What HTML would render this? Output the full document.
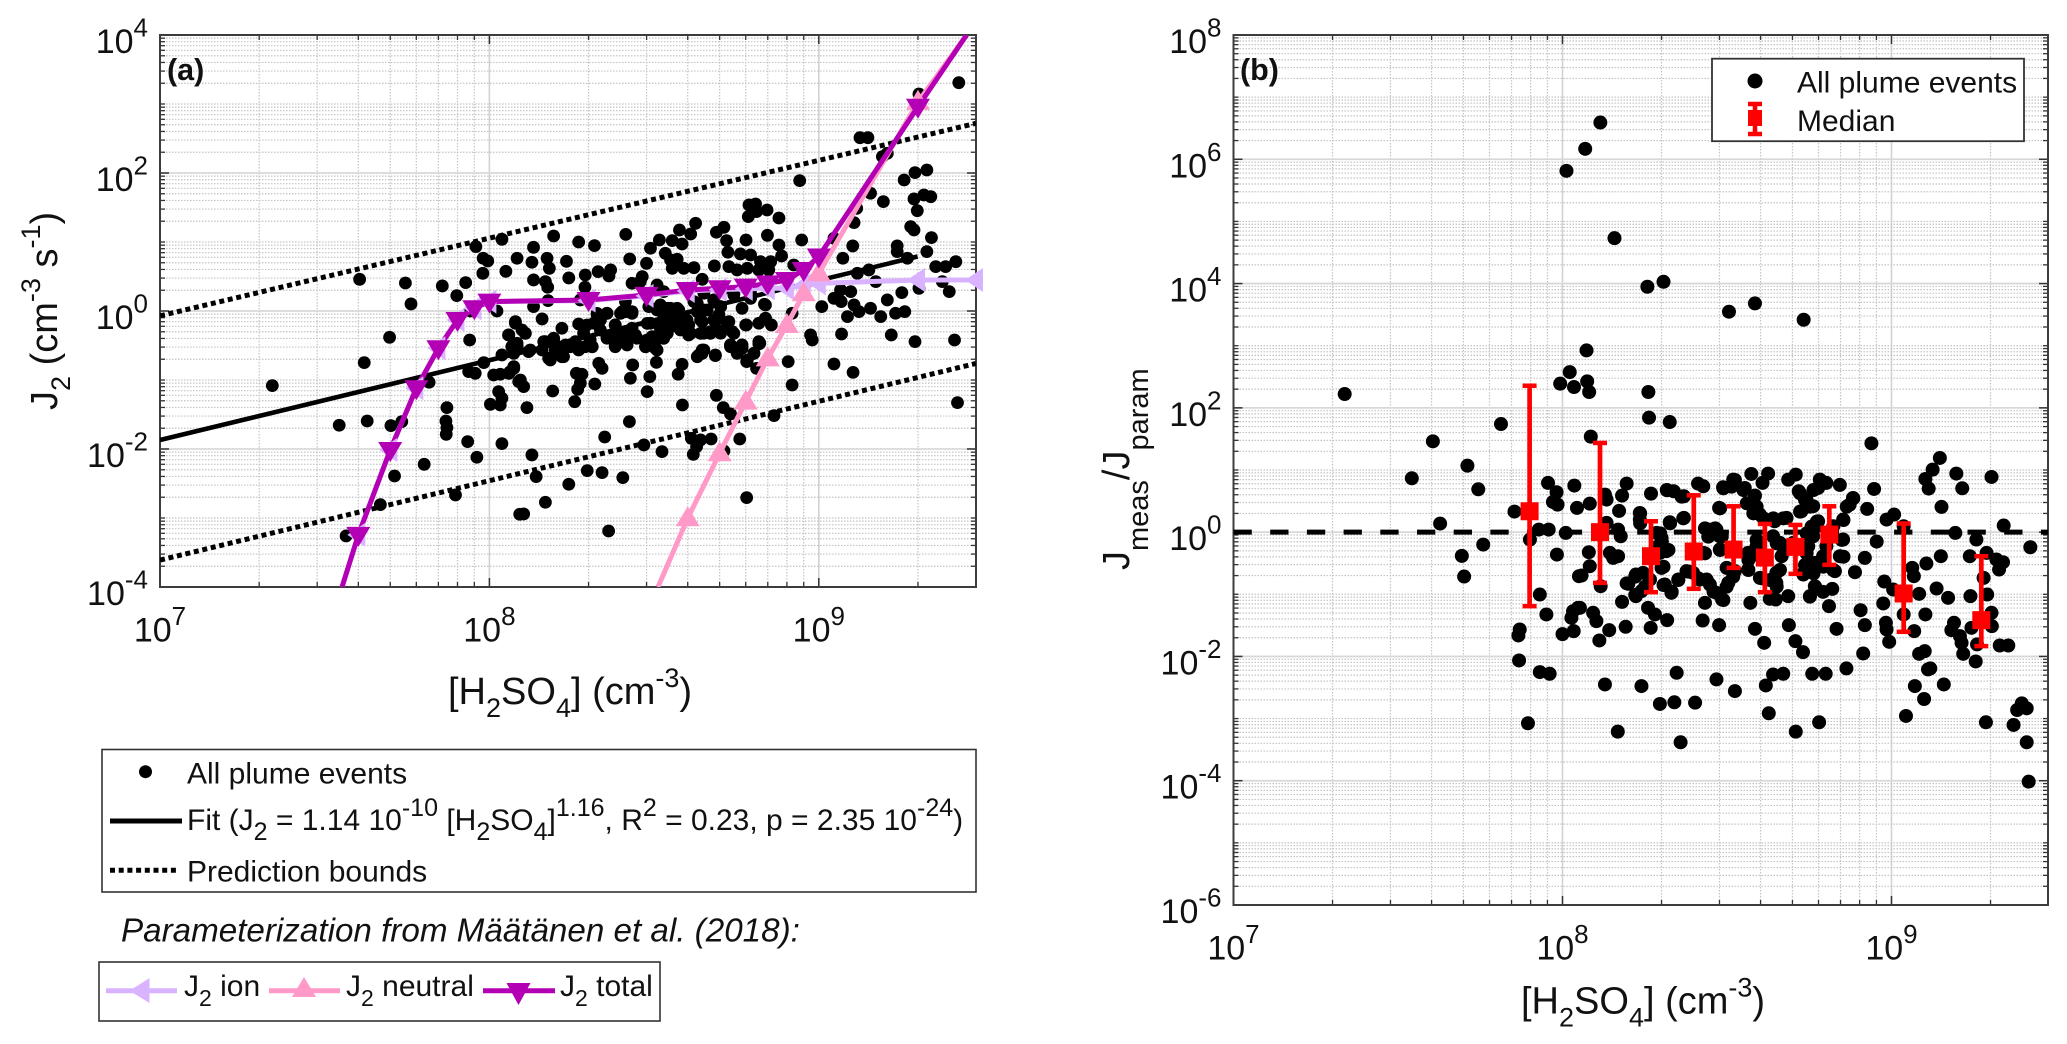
<!DOCTYPE html>
<html lang="en">
<head>
<meta charset="utf-8">
<title>J2 versus H2SO4 scatter panels</title>
<style>
html,body{margin:0;padding:0;background:#fff;}
svg{display:block;font-family:"Liberation Sans",Arial,sans-serif;}
text{fill:#111;}
</style>
</head>
<body>
<svg id="figure" xmlns="http://www.w3.org/2000/svg" width="2067" height="1044" viewBox="0 0 2067 1044">
  <rect x="0" y="0" width="2067" height="1044" fill="#fff"/>
  <defs>
    <clipPath id="clipA"><rect x="160" y="35" width="816" height="552"/></clipPath>
    <clipPath id="clipB"><rect x="1233.5" y="35" width="814.5" height="870"/></clipPath>
  </defs>
  <g id="panelA"></g>
  <g id="panelB"></g>

  <text x="167" y="80" font-size="30.5" font-weight="bold" fill="#000">(a)</text>
  <text x="1240" y="80" font-size="30.5" font-weight="bold" fill="#000">(b)</text>

  <text transform="translate(57,410) rotate(-90)" font-size="38">J<tspan font-size="27" dy="13">2</tspan><tspan dy="-13"> (cm</tspan><tspan font-size="27" dy="-17">-3</tspan><tspan dy="17"> s</tspan><tspan font-size="27" dy="-17">-1</tspan><tspan dy="17">)</tspan></text>
  <text x="448" y="704" font-size="38">[H<tspan font-size="27" dy="13">2</tspan><tspan dy="-13">SO</tspan><tspan font-size="27" dy="13">4</tspan><tspan dy="-13">] (cm</tspan><tspan font-size="27" dy="-17">-3</tspan><tspan dy="17">)</tspan></text>
  <text transform="translate(1129,570) rotate(-90)" font-size="38">J<tspan font-size="29" dy="19">meas</tspan><tspan dy="-19">/J</tspan><tspan font-size="29" dy="19">param</tspan></text>
  <text x="1521" y="1013.5" font-size="38">[H<tspan font-size="27" dy="13">2</tspan><tspan dy="-13">SO</tspan><tspan font-size="27" dy="13">4</tspan><tspan dy="-13">] (cm</tspan><tspan font-size="27" dy="-17">-3</tspan><tspan dy="17">)</tspan></text>

  <g>
    <rect x="102" y="749.5" width="874" height="142.5" fill="#fff" stroke="#333" stroke-width="1.6"/>
    <circle cx="145.5" cy="771.7" r="6.5" fill="#000"/>
    <text x="187" y="783.3" font-size="30" fill="#000">All plume events</text>
    <line x1="110" y1="821" x2="182" y2="821" stroke="#000" stroke-width="5"/>
    <text x="187" y="830" font-size="30" fill="#000">Fit (J<tspan font-size="25" dy="10">2</tspan><tspan dy="-10"> = 1.14 10</tspan><tspan font-size="25" dy="-14">-10</tspan><tspan dy="14"> [H</tspan><tspan font-size="25" dy="10">2</tspan><tspan dy="-10">SO</tspan><tspan font-size="25" dy="10">4</tspan><tspan dy="-10">]</tspan><tspan font-size="25" dy="-14">1.16</tspan><tspan dy="14">, R</tspan><tspan font-size="25" dy="-14">2</tspan><tspan dy="14"> = 0.23, p = 2.35 10</tspan><tspan font-size="25" dy="-14">-24</tspan><tspan dy="14">)</tspan></text>
    <line x1="110" y1="870.3" x2="178" y2="870.3" stroke="#000" stroke-width="5" stroke-dasharray="5 3.7"/>
    <text x="187" y="881.7" font-size="30" fill="#000">Prediction bounds</text>
  </g>

  <text x="121" y="941.7" font-size="33.2" font-style="italic" fill="#000">Parameterization from Määtänen et al. (2018):</text>

  <g>
    <rect x="99" y="962" width="561" height="59" fill="#fff" stroke="#333" stroke-width="1.6"/>
    <line x1="106" y1="990.7" x2="177" y2="990.7" stroke="#d9b3ff" stroke-width="5"/>
    <polygon points="129.5,990.7 149.5,978 149.5,1003" fill="#d9b3ff"/>
    <text x="184" y="996" font-size="30" fill="#000">J<tspan font-size="23" dy="10">2</tspan><tspan dy="-10"> ion</tspan></text>
    <line x1="269" y1="990.7" x2="340" y2="990.7" stroke="#ff99c8" stroke-width="5"/>
    <polygon points="304,977 316,997 292,997" fill="#ff99c8"/>
    <text x="346" y="996" font-size="30" fill="#000">J<tspan font-size="23" dy="10">2</tspan><tspan dy="-10"> neutral</tspan></text>
    <line x1="483" y1="990.7" x2="555" y2="990.7" stroke="#b400b4" stroke-width="5"/>
    <polygon points="506.5,983 530.5,983 518.5,1005" fill="#b400b4"/>
    <text x="560" y="996" font-size="30" fill="#000">J<tspan font-size="23" dy="10">2</tspan><tspan dy="-10"> total</tspan></text>
  </g>
</svg>

<script>
// ---- DATA (all concentrations and rates are log10 of the plotted quantity) ----
const xTickExponents = [7, 8, 9];
const yTickExponentsA = [4, 2, 0, -2, -4];
const yTickExponentsB = [8, 6, 4, 2, 0, -2, -4, -6];

const eventsALogConc = [
7.606,7.745,7.762,7.697,7.857,7.901,7.928,7.959,7.981,7.995,7.98,8.038,8.05,8.084,8.023,7.942,7.94,8.079,8.059,8.084,
8.195,8.134,8.271,8.319,8.414,8.129,8.175,8.182,8.234,8.134,8.17,8.177,8.241,8.291,8.33,8.368,8.363,8.426,8.29,8.178,
8.134,8.16,8.109,8.17,8.195,8.22,8.271,8.276,8.327,8.357,8.317,8.337,8.382,8.403,8.433,8.413,8.433,8.464,8.477,8.489,
8.516,8.555,8.585,8.577,8.611,8.626,8.689,8.712,8.72,8.779,8.844,8.724,8.762,8.793,8.823,8.854,8.879,8.887,8.948,8.879,
8.843,8.808,8.788,8.786,8.811,8.942,8.534,8.55,8.57,8.555,8.59,8.621,8.683,8.727,8.752,8.783,8.818,8.848,8.924,8.646,
8.509,8.458,8.529,8.484,8.519,8.55,8.575,8.621,8.651,8.681,8.707,8.742,8.793,8.767,8.835,8.838,8.818,8.856,8.78,8.727,
8.697,8.661,8.6,8.646,8.529,8.56,8.519,8.433,8.388,8.418,8.448,8.357,8.479,8.514,8.611,8.651,8.671,8.702,8.737,8.732,
8.767,8.821,8.646,8.975,8.98,9.069,9.22,9.292,9.412,8.919,9.009,9.046,9.066,9.097,9.068,9.107,9.087,9.122,9.157,9.188,
9.208,9.252,9.233,9.261,9.396,9.375,9.304,9.173,9.117,9.152,9.073,9.103,9.046,9.238,9.238,9.269,9.328,9.355,9.385,9.416,
9.342,9.289,9.279,9.107,9.115,9.157,9.196,9.259,9.292,9.328,9.289,9.319,9.34,9.299,9.208,9.193,9.125,9.149,9.304,9.425,
7.62,7.341,7.817,7.544,7.629,7.701,7.734,7.871,7.868,7.871,7.869,7.934,8.038,7.962,7.802,7.712,7.669,7.897,7.565,7.983,
7.937,7.957,8.013,8.033,8.059,8.074,8.089,8.028,8.038,8.003,8.033,8.074,8.084,8.092,
8.129,8.142,8.114,8.192,8.094,8.104,8.063,8.259,8.268,8.276,8.264,8.281,8.32,8.332,8.342,8.435,8.428,8.487,8.507,8.479,
8.425,8.35,8.469,8.524,8.586,8.573,8.585,8.631,8.646,8.686,8.689,8.71,8.732,8.613,8.641,8.673,8.629,8.619,8.712,8.76,
8.864,8.781,8.297,8.342,8.405,8.241,8.17,8.104,8.362,8.781,8.803,8.762,8.732,8.752,8.818,8.811,8.907,8.919,9.046,9.104,
9.421,8.185,8.225,8.119,8.16,8.205,8.246,8.271,8.312,8.382,8.418,8.474,8.509,8.074,8.068,8.038,
8.489,8.58,8.681,8.54,8.631,8.702,8.286,8.306,8.266,8.235,
8.327,8.357,8.296,8.322,8.382,8.413,8.433,8.337,8.357,8.382,8.413,8.443,8.474,8.504,8.529,8.494,8.479,8.509,8.54,8.57,
8.529,8.56,8.59,8.519,8.55,8.605,8.605,8.641,8.671,8.641,8.691,8.696,8.722,8.742,8.732,8.767,8.702,8.651,8.631,8.681,
8.742,8.793,8.165,8.195,8.231,8.261,8.291,8.312,8.2,8.22,8.18,8.124,8.084,8.058,8.109,8.099,8.079,8.636,8.651,8.686,
8.783,8.803,8.818,8.838,8.838,8.778,8.398
];
const eventsALogJ = [
0.459,0.406,0.102,-0.381,0.363,0.223,0.411,0.933,0.764,0.725,0.546,1.039,0.575,0.764,0,0,-0.42,-0.178,-0.347,-0.468,
1.087,0.923,1.0,0.947,1.111,0.706,0.764,0.619,0.72,0.45,0.426,0.344,0.479,0.522,0.571,0.595,0.508,0.754,0.344,0.15,
0.063,-0.115,-0.323,-0.444,-0.41,-0.25,-0.188,0.16,-0.057,-0.033,-0.178,-0.13,-0.202,-0.009,-0.009,0.136,0.402,0.498,0.691,0.909,
1.029,1.02,0.971,1.174,1.116,1.271,1.141,1.213,1.02,1.029,1.097,0.851,0.827,0.812,0.715,0.715,0.957,0.798,1.029,1.348,
1.464,1.551,1.537,1.368,1.44,1.889,0.836,0.74,0.749,0.619,0.619,0.628,0.653,0.643,0.595,0.619,0.595,0.595,0.667,0.459,
0.377,0.426,0.281,0.063,0.088,0.039,0.015,0.136,0.257,0.16,0.305,0.233,0.184,0.039,0.097,-0.106,-0.178,-0.202,-0.202,-0.154,
-0.057,0.015,-0.13,-0.154,-0.13,-0.178,-0.25,-0.25,-0.347,-0.323,-0.395,-0.395,-0.42,-0.395,-0.323,-0.323,-0.299,-0.323,-0.299,-0.492,
-0.492,-0.468,-0.565,-0.347,-0.42,-0.333,-0.347,-0.444,-0.42,-0.033,0.063,0.184,0.305,0.281,0.136,0.088,-0.082,-0.009,0.039,-0.082,
0.16,0.266,-0.033,-0.009,0.281,0.426,0.329,0.426,0.546,0.595,0.764,0.943,1.054,0.943,0.86,0.764,0.86,0.643,0.643,0.715,
1.063,1.174,1.223,1.281,1.488,1.706,1.585,1.899,2.005,2.044,1.624,1.681,1.657,1.454,2.285,2.237,2.512,2.512,3.145,3.309,
-0.748,-1.082,-1.033,-1.656,-1.594,-1.661,-1.603,-1.4,-1.594,-1.69,-1.787,-1.893,-1.922,-2.12,-2.222,-2.391,-2.806,-2.666,-3.26,-0.748,
-0.879,-0.903,-0.927,-0.917,-0.903,-0.831,-1.024,-1.169,-1.265,-1.352,-1.362,-0.613,-0.517,-2.946,
-2.086,-2.4,-1.4,-1.159,-1.0,-1.096,-0.879,-1.314,-1.135,-1.048,-0.903,-0.917,-1.058,-0.758,-0.831,-0.782,-0.975,-0.951,-0.744,-1.169,
-1.603,-1.826,-1.941,-2.038,-1.362,-0.917,-0.773,-0.662,-0.613,-0.647,-1.222,-1.4,-1.492,-1.845,-1.869,-1.855,-1.966,-2.077,-2.028,-1.855,
-1.516,-2.705,-2.313,-2.342,-2.415,-2.511,-2.772,-2.941,-3.188,-0.734,-0.613,-0.526,-0.517,-0.613,-0.478,-0.831,-0.734,-1.072,-0.768,-0.889,
-1.328,-0.71,-0.662,-0.589,-0.565,-0.517,-0.517,-0.565,-0.517,-0.517,-0.492,-0.517,-0.565,-0.806,-0.517,-0.637,
-0.178,-0.275,-0.13,-0.323,-0.009,0.063,-0.323,-0.42,-0.516,-0.516,
-0.034,-0.034,-0.203,-0.179,-0.203,-0.01,-0.034,-0.275,-0.372,-0.493,-0.444,-0.348,-0.517,-0.541,-0.396,-0.372,-0.179,0.014,0.039,0.039,
-0.106,-0.082,-0.13,-0.227,-0.227,-0.203,-0.348,-0.324,-0.324,-0.13,-0.275,-0.106,-0.179,-0.324,-0.493,-0.541,0.063,0.014,0.111,0.159,
0.256,0.256,-0.444,-0.396,-0.493,-0.444,-0.517,-0.517,-0.565,-0.662,-0.686,-0.565,-0.517,-0.348,-0.324,-0.275,-0.155,-0.638,-0.565,-0.638,
-0.71,-0.614,-0.444,-0.106,0.087,-0.203,-0.034
];

const fitLogConc = [7, 9.3];
const fitLogJ = [-1.87, 0.79];
const upperBoundLogConc = [7, 9.477];
const upperBoundLogJ = [-0.07, 2.72];
const lowerBoundLogConc = [7, 9.477];
const lowerBoundLogJ = [-3.61, -0.76];

const totalConc = [3.57e7,4e7,5e7,6e7,7e7,8e7,9e7,1e8,2e8,3e8,4e8,5e8,6e8,7e8,8e8,9e8,1e9,2e9,2.81e9];
const totalLogJ = [-4,-3.245,-2.014,-1.12,-0.54,-0.13,0.04,0.136,0.16,0.233,0.305,0.33,0.353,0.40,0.45,0.595,0.79,2.96,4.0];
const neutralConc = [3.25e8,4e8,5e8,6e8,7e8,8e8,9e8,1e9,2e9,2.81e9];
const neutralLogJ = [-4,-3.004,-2.062,-1.313,-0.686,-0.202,0.257,0.546,3.03,4.0];
const ionConc = [3.57e7,4e7,5e7,6e7,7e7,8e7,9e7,1e8,2e8,3e8,4e8,5e8,6e8,7e8,8e8,9e8,1e9,2e9,3e9];
const ionLogJ = [-4,-3.245,-2.014,-1.12,-0.54,-0.13,0.04,0.136,0.15,0.22,0.29,0.31,0.32,0.33,0.33,0.37,0.40,0.45,0.45];

const eventsBLogConc = [
8.012,8.069,8.115,8.158,8.258,8.307,8.506,8.585,8.733,
7.338,7.606,7.813,7.542,7.711,7.744,7.854,7.628,7.759,7.694,7.701,7.901,7.928,7.958,8.01,7.983,7.956,7.982,7.971,7.985,8.036,8.044,8.022,7.993,8.035,7.931,7.951,8.05,8.032,8.027,8.0,8.034,8.047,7.87,7.866,7.868,7.931,7.961,
8.073,8.075,8.081,8.261,8.263,8.326,8.086,8.939,8.083,8.08,8.134,8.129,8.134,8.181,8.195,8.172,8.169,8.177,8.154,8.169,8.083,8.058,8.116,8.181,8.223,8.2,8.223,8.24,8.235,8.235,8.269,8.318,8.338,8.369,8.412,8.428,8.369,8.326,8.476,
8.286,8.301,8.316,8.291,8.301,8.266,8.311,8.331,8.352,8.377,8.438,8.448,8.433,8.468,8.485,8.504,8.524,8.499,8.478,8.448,8.468,8.428,8.519,8.488,8.554,8.585,8.574,8.625,8.608,8.686,8.709,8.718,8.737,8.782,8.802,8.777,8.843,8.883,8.873,8.726,8.762,8.853,8.777,8.681,8.645,8.6,8.574,
8.564,8.59,8.6,8.65,8.65,8.681,8.661,8.666,8.742,8.732,8.767,8.792,8.843,8.828,8.853,8.889,8.919,8.955,8.926,8.947,8.985,9.008,9.037,9.194,9.258,9.341,9.422,9.15,9.106,9.063,9.068,8.978,9.005,9.084,9.137,9.172,9.24,9.238,9.289,9.319,9.339,9.327,9.28,9.291,9.304,9.305,9.103,9.037,
8.975,8.906,8.919,8.983,8.985,8.993,9.069,9.101,9.084,9.118,9.111,9.19,9.182,9.208,9.213,9.243,9.218,9.256,9.26,9.329,9.355,9.197,9.215,9.152,9.304,9.147,9.125,9.103,9.113,8.752,8.767,8.792,8.82,8.81,8.833,8.688,8.708,8.731,8.613,8.585,8.571,8.63,8.648,8.686,8.426,8.476,8.318,8.268,8.281,8.26,8.192,8.142,8.112,8.103,8.093,8.053,
8.347,8.468,8.64,8.671,8.759,8.8,8.863,8.914,8.129,8.24,8.524,8.618,9.071,9.159,
8.701,8.64,8.564,8.6,8.747,8.762,8.772,8.802,8.823,8.296,8.397,8.417,8.245,8.478,8.144,
7.895,8.168,8.359,8.296,8.34,8.403,8.627,8.709,8.78,9.044,9.099,9.287,9.371,9.411,9.417,9.382,9.396,9.411,
8.297,8.302,8.322,8.307,8.236,8.236,8.327,8.367,8.317,8.362,8.433,8.464,8.443,8.479,8.484,8.433,8.383,8.413,8.438,8.459,
8.352,8.332,8.307,8.221,8.195,8.221,8.251,8.489,8.499,8.519,8.565,8.565,8.59,8.585,8.56,8.59,8.58,8.611,8.641,8.671,
8.651,8.671,8.661,8.631,8.651,8.606,8.742,8.757,8.773,8.722,8.752,8.742,8.737,8.763,8.793,8.823,8.854,8.849,8.854,8.864,
8.884,8.763,8.783,8.722,8.742,8.732,8.768,8.752,8.479,8.514,8.489,8.55,8.524
];
const eventsBLogRatio = [
5.814,6.168,6.591,4.731,3.949,4.029,3.547,3.681,3.418,
2.222,1.461,1.74,0.867,1.07,0.69,0.331,0.138,-0.2,-0.382,-0.714,-0.119,0.041,0.041,-0.012,-0.361,0.792,0.642,0.486,0.443,0.749,0.39,2.576,2.389,2.335,-1.004,-1.325,-0.709,-1.272,-1.379,-1.641,-1.593,-1.218,-1.566,-1.663,-2.065,-2.252,-2.279,
2.924,2.426,2.255,2.255,1.842,1.772,1.537,1.429,0.459,-0.323,0.149,0.604,0.524,0.588,0.781,0.342,0.041,-0.066,-0.414,-0.387,-0.548,-0.698,-0.87,-1.122,-0.682,-0.832,-1.03,-0.95,0.309,0.202,0.62,0.674,0.658,0.577,0.781,0.738,0.229,0.159,0.39,
-0.012,-0.093,-0.307,-0.227,-0.575,-0.763,-0.843,-0.977,-0.763,-0.628,-0.763,-0.843,-1.138,-0.977,-1.084,-0.816,-0.628,-0.575,-0.28,0.041,0.041,-0.334,0.845,0.722,0.711,0.588,0.936,0.942,0.792,0.845,0.926,0.658,0.524,0.845,0.792,0.711,0.76,0.55,0.443,0.336,0.417,0.202,0.175,0.229,0.175,0.283,0.443,
-0.602,-0.227,-0.736,-0.655,-0.816,-0.227,-0.173,-0.387,-0.602,-0.682,-0.495,-0.387,-0.387,-0.628,-0.119,-0.645,-0.414,-0.152,0.374,0.695,0.202,0.283,0.095,-0.012,-0.119,0.106,-0.243,-0.387,-0.505,-0.575,-0.709,-0.795,-0.923,-0.993,-0.907,-1.057,-1.03,-0.387,-0.334,-0.441,-0.484,-0.602,-0.736,-1.004,-1.298,-1.513,-1.325,-1.325,
-1.148,-1.256,-1.497,-1.459,-1.566,-1.765,-1.593,-1.915,-1.958,-2.193,-2.209,-1.459,-1.577,-1.673,-1.781,-1.54,-1.958,-2.081,-1.807,-1.824,-1.824,0.942,0.706,0.406,0.888,1.194,1.006,0.856,0.701,-1.03,-0.87,-0.961,-0.913,-1.191,-1.556,-1.497,-1.754,-1.931,-1.781,-1.556,-1.138,-1.073,-1.084,-1.03,-1.422,-1.497,-1.416,-1.54,-1.325,-1.218,-1.523,-1.577,-1.743,-1.432,-1.298,-1.218,
-2.263,-2.37,-2.29,-2.279,-2.279,-2.279,-2.193,-1.952,-2.451,-2.477,-2.558,-2.467,-2.477,-2.451,
-0.173,-0.066,-0.334,-0.387,-0.227,-0.066,0.095,-0.227,0.095,-0.334,-0.655,-0.763,-0.655,-0.066,-0.334,
-3.076,-3.21,-3.382,-2.765,-2.738,-2.744,-2.915,-3.21,-3.06,-2.958,-2.685,-3.06,-3.103,-3.382,-4.015,-2.862,-2.755,-2.835,
-0.019,-0.153,-0.287,-0.556,0.303,0.142,0.142,0.222,0.678,0.571,0.061,0.061,-0.073,-0.287,-0.073,-0.341,-0.636,-0.743,-0.77,-0.958,
-0.77,-0.958,-0.851,-0.716,-0.824,-1.012,-0.877,-1.092,-0.877,-0.716,-0.609,-0.448,-0.126,-0.287,0.464,0.41,0.303,0.222,0.222,0.222,
-0.18,-0.234,-0.609,-0.77,-0.877,-0.743,-0.019,0.088,0.169,0.33,0.41,-0.341,-0.529,-0.663,-0.556,-0.609,-0.395,-0.126,0.195,0.41,
0.544,0.678,0.839,0.625,0.517,-0.663,-0.877,-1.038,0.383,0.732,0.705,0.678,0.839
];

const medianLogConc = [7.900,8.114,8.269,8.399,8.520,8.615,8.708,8.811,9.037,9.273];
const medianLogRatio = [0.336,0.0,-0.387,-0.312,-0.280,-0.409,-0.237,-0.039,-0.987,-1.416];
const medianLogHigh = [2.356,1.435,0.175,0.593,0.416,0.132,0.116,0.416,0.138,-0.387];
const medianLogLow = [-1.191,-0.816,-0.966,-0.912,-0.575,-0.966,-0.671,-0.527,-1.604,-1.834];
const referenceLogRatio = [0];

// ---- AXES ----
const NS = 'http://www.w3.org/2000/svg';
const minorMultipliers = [2, 3, 4, 5, 6, 7, 8, 9];
const axisA = { left: 160, right: 976, top: 35, bottom: 587, x0: 7, x1: 9.4772, y0: -4, y1: 4 };
const axisB = { left: 1233.5, right: 2048, top: 35, bottom: 905, x0: 7, x1: 9.4757, y0: -6, y1: 8 };

function xPos(axis, v) { return axis.left + (v - axis.x0) / (axis.x1 - axis.x0) * (axis.right - axis.left); }
function yPos(axis, v) { return axis.bottom - (v - axis.y0) / (axis.y1 - axis.y0) * (axis.bottom - axis.top); }
function mk(tag, attrs, parent) {
  const el = document.createElementNS(NS, tag);
  for (const k in attrs) el.setAttribute(k, attrs[k]);
  parent.appendChild(el);
  return el;
}

function drawAxes(axis, root, yExps, prefix) {
  const grid = mk('g', {}, root);
  
  
  const ticks = mk('g', {}, root);
  
  

  for (let d = Math.floor(axis.x0); d <= axis.x1; d++) {
    const majorX = xPos(axis, d);
    if (d > axis.x0) {
      const gl = mk('line', { x1: majorX, x2: majorX, y1: axis.top, y2: axis.bottom, stroke: '#d2d2d2', 'stroke-width': 1.6 }, grid);
      
      
    }
    [[axis.top, axis.top + 9], [axis.bottom, axis.bottom - 9]].forEach(function (p) {
      const t = mk('line', { x1: majorX, x2: majorX, y1: p[0], y2: p[1], stroke: '#333', 'stroke-width': 1.5 }, ticks);
      
      
    });
    minorMultipliers.forEach(function (m) {
      const v = d + Math.log10(m);
      if (v > axis.x1) return;
      const x = xPos(axis, v);
      const gl = mk('line', { x1: x, x2: x, y1: axis.top, y2: axis.bottom, stroke: '#c4c4c4', 'stroke-width': 1.2, 'stroke-dasharray': '1.5 1.5' }, grid);
      
      
      [[axis.top, axis.top + 5], [axis.bottom, axis.bottom - 5]].forEach(function (p) {
        const t = mk('line', { x1: x, x2: x, y1: p[0], y2: p[1], stroke: '#333', 'stroke-width': 1.3 }, ticks);
        
        
      });
    });
  }

  for (let d = axis.y0; d <= axis.y1; d++) {
    const majorY = yPos(axis, d);
    if (d % 2 === 0) {
      if (d > axis.y0 && d < axis.y1) {
        const gl = mk('line', { x1: axis.left, x2: axis.right, y1: majorY, y2: majorY, stroke: '#d8d8d8', 'stroke-width': 1.8 }, grid);
        
        
        [[axis.left, axis.left + 9], [axis.right, axis.right - 9]].forEach(function (p) {
          const t = mk('line', { x1: p[0], x2: p[1], y1: majorY, y2: majorY, stroke: '#333', 'stroke-width': 1.5 }, ticks);
          
          
        });
      }
    } else {
      const gl = mk('line', { x1: axis.left, x2: axis.right, y1: majorY, y2: majorY, stroke: '#c4c4c4', 'stroke-width': 1.2, 'stroke-dasharray': '1.5 1.5' }, grid);
      
      
      [[axis.left, axis.left + 5], [axis.right, axis.right - 5]].forEach(function (p) {
        const t = mk('line', { x1: p[0], x2: p[1], y1: majorY, y2: majorY, stroke: '#333', 'stroke-width': 1.3 }, ticks);
        
        
      });
    }
    if (d < axis.y1) {
      minorMultipliers.forEach(function (m) {
        const y = yPos(axis, d + Math.log10(m));
        const gl = mk('line', { x1: axis.left, x2: axis.right, y1: y, y2: y, stroke: '#c4c4c4', 'stroke-width': 1.2, 'stroke-dasharray': '1.5 1.5' }, grid);
        
        
        [[axis.left, axis.left + 5], [axis.right, axis.right - 5]].forEach(function (p) {
          const t = mk('line', { x1: p[0], x2: p[1], y1: y, y2: y, stroke: '#333', 'stroke-width': 1.3 }, ticks);
          
          
        });
      });
    }
  }

  const frame = mk('rect', { x: axis.left, y: axis.top, width: axis.right - axis.left, height: axis.bottom - axis.top, fill: 'none', stroke: '#3c3c3c', 'stroke-width': 2 }, root);
  
  

  xTickExponents.forEach(function (e) {
    const t = mk('text', { x: xPos(axis, e), y: axis.bottom + 54.5, 'font-size': 34, 'text-anchor': 'middle', fill: '#222' }, root);
    
    
    t.appendChild(document.createTextNode('10'));
    const s = mk('tspan', { 'font-size': 26, dy: -16.5 }, t);
    s.textContent = String(e);
  });
  yExps.forEach(function (e) {
    const t = mk('text', { x: axis.left - 12, y: yPos(axis, e) + 18, 'font-size': 34, 'text-anchor': 'end', fill: '#222' }, root);
    
    
    t.appendChild(document.createTextNode('10'));
    const s = mk('tspan', { 'font-size': 26, dy: -16.5 }, t);
    s.textContent = String(e);
  });
}

function drawPoints(axis, root, xs, ys, r, name) {
  const g = mk('g', {}, root);
  
  
  const n = Math.min(xs.length, ys.length);
  for (let i = 0; i < n; i++) {
    const c = mk('circle', { cx: xPos(axis, xs[i]), cy: yPos(axis, ys[i]), r: r, fill: '#000' }, g);
    
    
  }
}

function linePoints(axis, xs, ys) {
  return xs.map(function (x, i) { return xPos(axis, x) + ',' + yPos(axis, ys[i]); }).join(' ');
}

function triangle(kind, x, y) {
  if (kind === 'down') return [[x - 12, y - 8], [x + 12, y - 8], [x, y + 12]];
  if (kind === 'up') return [[x, y - 12], [x + 12, y + 8], [x - 12, y + 8]];
  return [[x - 11, y], [x + 7, y - 12], [x + 7, y + 12]];
}

// ---- PANEL A ----
const panelA = document.getElementById('panelA');
drawAxes(axisA, panelA, yTickExponentsA, 'panel-a');
drawPoints(axisA, panelA, eventsALogConc, eventsALogJ, 6.4, 'panel-a');

const clippedA = mk('g', { 'clip-path': 'url(#clipA)' }, panelA);



const fitLine = mk('polyline', { points: linePoints(axisA, fitLogConc, fitLogJ), fill: 'none', stroke: '#000', 'stroke-width': 4.6 }, clippedA);



const upperLine = mk('polyline', { points: linePoints(axisA, upperBoundLogConc, upperBoundLogJ), fill: 'none', stroke: '#000', 'stroke-width': 5, 'stroke-dasharray': '5 3.7' }, clippedA);



const lowerLine = mk('polyline', { points: linePoints(axisA, lowerBoundLogConc, lowerBoundLogJ), fill: 'none', stroke: '#000', 'stroke-width': 5, 'stroke-dasharray': '5 3.7' }, clippedA);



function drawParamSeries(concs, ys, color, kind, name, skipLastMarker) {
  const logs = concs.map(function (c) { return Math.log10(c); });
  const line = mk('polyline', { points: linePoints(axisA, logs, ys), fill: 'none', stroke: color, 'stroke-width': 5 }, clippedA);
  
  
  const g = mk('g', {}, panelA);
  
  
  const last = skipLastMarker ? logs.length - 1 : logs.length;
  for (let i = 1; i < last; i++) {
    const pts = triangle(kind, xPos(axisA, logs[i]), yPos(axisA, ys[i]));
    const m = mk('polygon', { points: pts.map(function (p) { return p.join(','); }).join(' '), fill: color }, g);
    
    
  }
}
drawParamSeries(ionConc, ionLogJ, '#d9b3ff', 'left', 'j2-ion', false);
drawParamSeries(neutralConc, neutralLogJ, '#ff99c8', 'up', 'j2-neutral', true);
drawParamSeries(totalConc, totalLogJ, '#b400b4', 'down', 'j2-total', true);

// ---- PANEL B ----
const panelB = document.getElementById('panelB');
drawAxes(axisB, panelB, yTickExponentsB, 'panel-b');
drawPoints(axisB, panelB, eventsBLogConc, eventsBLogRatio, 7, 'panel-b');

const refLine = mk('line', { x1: axisB.left, x2: axisB.right, y1: yPos(axisB, referenceLogRatio[0]), y2: yPos(axisB, referenceLogRatio[0]), stroke: '#000', 'stroke-width': 5, 'stroke-dasharray': '18.3 18.4' }, panelB);



const medians = mk('g', {}, panelB);


medianLogConc.forEach(function (c, i) {
  const x = xPos(axisB, c);
  const yHigh = yPos(axisB, medianLogHigh[i]);
  const yLow = yPos(axisB, medianLogLow[i]);
  const yMed = yPos(axisB, medianLogRatio[i]);
  const bar = mk('line', { x1: x, x2: x, y1: yHigh, y2: yLow, stroke: '#f00', 'stroke-width': 4.7 }, medians);
  
  
  const capTop = mk('line', { x1: x - 7, x2: x + 7, y1: yHigh, y2: yHigh, stroke: '#f00', 'stroke-width': 4.5 }, medians);
  
  
  const capBottom = mk('line', { x1: x - 7, x2: x + 7, y1: yLow, y2: yLow, stroke: '#f00', 'stroke-width': 4.5 }, medians);
  
  
  const sq = mk('rect', { x: x - 9, y: yMed - 9, width: 18, height: 18, fill: '#f00' }, medians);
  
  
});

// Panel B legend sits on top of the grid
const legendB = mk('g', {}, panelB);


const lbBox = mk('rect', { x: 1712, y: 58.7, width: 312, height: 82.5, fill: '#fff', stroke: '#333', 'stroke-width': 1.8 }, legendB);


const lbDot = mk('circle', { cx: 1755, cy: 81, r: 7.5, fill: '#000' }, legendB);


const lbEvents = mk('text', { x: 1797, y: 92.7, 'font-size': 30, fill: '#000' }, legendB);


lbEvents.textContent = 'All plume events';
const lbBar = mk('path', { d: 'M1748 104h14M1755 104v30M1748 134h14', fill: 'none', stroke: '#f00', 'stroke-width': 4.5 }, legendB);


const lbSq = mk('rect', { x: 1748, y: 110, width: 14, height: 16, fill: '#f00' }, legendB);


const lbMedian = mk('text', { x: 1797, y: 131, 'font-size': 30, fill: '#000' }, legendB);


lbMedian.textContent = 'Median';
</script>
</body>
</html>
